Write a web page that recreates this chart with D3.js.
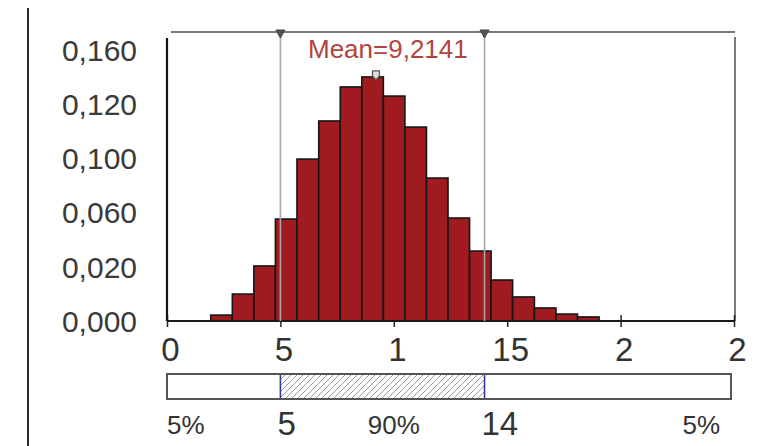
<!DOCTYPE html>
<html>
<head>
<meta charset="utf-8">
<script src="https://cdn.jsdelivr.net/npm/d3@7"></script>
<style>
  body { margin: 0; background: #fff; }
  text { font-family: "Liberation Sans", Arial, sans-serif; }
</style>
</head>
<body>
<div id="chart"></div>
<script>
// Histogram bins (left/right edges) and probability of each bin
const binEdges = [1.93, 2.88, 3.83, 4.78, 5.73, 6.69, 7.64, 8.59, 9.54, 10.49,
                  11.44, 12.39, 13.34, 14.29, 15.24, 16.20, 17.15, 18.10, 19.05];
const binProb = [0.0035, 0.0159, 0.0325, 0.0602, 0.0956, 0.1181, 0.1382, 0.1441, 0.1328,
                 0.1145, 0.0844, 0.0608, 0.0413, 0.0242, 0.0142, 0.0077, 0.0041, 0.0024];

// Axis ticks as drawn in the picture (labels are truncated in the original)
const xTicks = [0, 5, 10, 15, 20, 25];
const xTickLabels = ["0", "5", "1", "15", "2", "2"];
const yTicks = [0, 0.032, 0.064, 0.096, 0.128, 0.160];
const yTickLabels = ["0,000", "0,020", "0,060", "0,100", "0,120", "0,160"];

// Summary values
const meanValue = 9.2141;
const lowerBound = 5;
const upperBound = 14;
const tailLabels = ["5%", "90%", "5%"];

const W = 763, H = 446;
const plot = { left: 167, right: 735, top: 32, bottom: 321 };

const svg = d3.select("#chart").append("svg")
    .attr("width", W)
    .attr("height", H);

const x = d3.scaleLinear().domain([0, 25]).range([plot.left, plot.right - 1]);
const y = d3.scaleLinear().domain([0, 0.16]).range([plot.bottom, 50]);

// page border line on the left
svg.append("line")
    .attr("x1", 28).attr("x2", 28)
    .attr("y1", 8).attr("y2", H)
    .attr("stroke", "#2a2a2a").attr("stroke-width", 2);

// frame: top + right in gray
svg.append("line")
    .attr("x1", plot.left + 4).attr("x2", plot.right)
    .attr("y1", plot.top).attr("y2", plot.top)
    .attr("stroke", "#7a7a7a").attr("stroke-width", 2);
svg.append("line")
    .attr("x1", plot.right).attr("x2", plot.right)
    .attr("y1", plot.top + 5).attr("y2", plot.bottom)
    .attr("stroke", "#7a7a7a").attr("stroke-width", 2);

// x axis ticks (drawn under the bars)
const xAxis = svg.append("g")
    .attr("transform", `translate(0,${plot.bottom})`)
    .call(d3.axisBottom(x).tickValues(xTicks).tickSize(6).tickFormat((d, i) => xTickLabels[i]));
xAxis.select(".domain").remove();
xAxis.selectAll(".tick line")
    .attr("y1", -6)
    .attr("stroke", "#222").attr("stroke-width", 1.5);
xAxis.selectAll(".tick text")
    .attr("y", 40).attr("dy", 0).attr("dx", 3)
    .attr("fill", "#333")
    .style("font-size", "33px")
    .style("font-family", "'Liberation Sans', Arial, sans-serif");

// bars
const bins = binProb.map((p, i) => ({ x0: binEdges[i], x1: binEdges[i + 1], p }));
svg.append("g")
    .selectAll("rect")
    .data(bins)
    .join("rect")
    .attr("x", d => x(d.x0))
    .attr("width", d => x(d.x1) - x(d.x0))
    .attr("y", d => y(d.p))
    .attr("height", d => y(0) - y(d.p))
    .attr("fill", "#a01b1f")
    .attr("stroke", "#161616")
    .attr("stroke-width", 1.6);

// bottom baseline + left axis line
svg.append("line")
    .attr("x1", plot.left).attr("x2", plot.right)
    .attr("y1", plot.bottom).attr("y2", plot.bottom)
    .attr("stroke", "#1a1a1a").attr("stroke-width", 2);
svg.append("line")
    .attr("x1", plot.left).attr("x2", plot.left)
    .attr("y1", plot.top + 6).attr("y2", plot.bottom)
    .attr("stroke", "#111").attr("stroke-width", 2.2);

// y tick labels
svg.append("g")
    .selectAll("text")
    .data(yTicks)
    .join("text")
    .attr("x", 137)
    .attr("y", d => y(d))
    .attr("dy", "0.36em")
    .attr("text-anchor", "end")
    .attr("fill", "#3a3a3a")
    .style("font-size", "30px")
    .text((d, i) => yTickLabels[i]);

// percentile lines with markers on the top edge
[lowerBound, upperBound].forEach(v => {
    svg.append("line")
        .attr("x1", x(v)).attr("x2", x(v))
        .attr("y1", plot.top).attr("y2", plot.bottom)
        .attr("stroke", "#a8a8a8").attr("stroke-width", 1.6);
    svg.append("path")
        .attr("d", `M${x(v) - 4.5},${plot.top - 2} L${x(v) + 4.5},${plot.top - 2} L${x(v)},${plot.top + 6} Z`)
        .attr("fill", "#555").attr("stroke", "#444").attr("stroke-width", 1);
});

// mean marker and label
const peak = d3.max(binProb);
const mx = x(meanValue), my = y(peak);
svg.append("path")
    .attr("d", `M${mx - 3.5},${my - 6} L${mx + 3.5},${my - 6} L${mx + 3.5},${my - 1} L${mx},${my + 3} L${mx - 3.5},${my - 1} Z`)
    .attr("fill", "#ddd").attr("stroke", "#555").attr("stroke-width", 1.2);
svg.append("text")
    .attr("x", 308)
    .attr("y", 58)
    .attr("fill", "#b0443f")
    .style("font-size", "26px")
    .text("Mean=" + String(meanValue).replace(".", ","));

// bottom range bar with hatched 90% interval
const defs = svg.append("defs");
defs.append("pattern")
    .attr("id", "hatch")
    .attr("patternUnits", "userSpaceOnUse")
    .attr("width", 6).attr("height", 6)
    .append("path")
    .attr("d", "M-1,1 l2,-2 M0,6 l6,-6 M5,7 l2,-2")
    .attr("stroke", "#9a9a9a").attr("stroke-width", 1);

const barTop = 374, barH = 25;
svg.append("rect")
    .attr("x", x(0)).attr("y", barTop)
    .attr("width", x(25) - 3 - x(0)).attr("height", barH)
    .attr("fill", "#fff")
    .attr("stroke", "#555").attr("stroke-width", 2);
svg.append("rect")
    .attr("x", x(lowerBound)).attr("y", barTop + 1)
    .attr("width", x(upperBound) - x(lowerBound)).attr("height", barH - 2)
    .attr("fill", "url(#hatch)");
[lowerBound, upperBound].forEach(v => {
    svg.append("line")
        .attr("x1", x(v)).attr("x2", x(v))
        .attr("y1", barTop + 1).attr("y2", barTop + barH - 1)
        .attr("stroke", "#33399a").attr("stroke-width", 1.6);
});

// labels under the range bar
const labY = 434;
svg.append("text").attr("x", x(0)).attr("y", labY)
    .attr("fill", "#333").style("font-size", "26px").text(tailLabels[0]);
svg.append("text").attr("x", x(10)).attr("y", labY).attr("text-anchor", "middle")
    .attr("fill", "#333").style("font-size", "26px").text(tailLabels[1]);
svg.append("text").attr("x", x(25) - 14).attr("y", labY).attr("text-anchor", "end")
    .attr("fill", "#333").style("font-size", "26px").text(tailLabels[2]);
svg.append("text").attr("x", x(lowerBound) - 3).attr("y", labY + 1)
    .attr("fill", "#333").style("font-size", "33px").text(lowerBound);
svg.append("text").attr("x", x(upperBound) - 3).attr("y", labY + 1)
    .attr("fill", "#333").style("font-size", "33px").text(upperBound);
</script>
</body>
</html>
